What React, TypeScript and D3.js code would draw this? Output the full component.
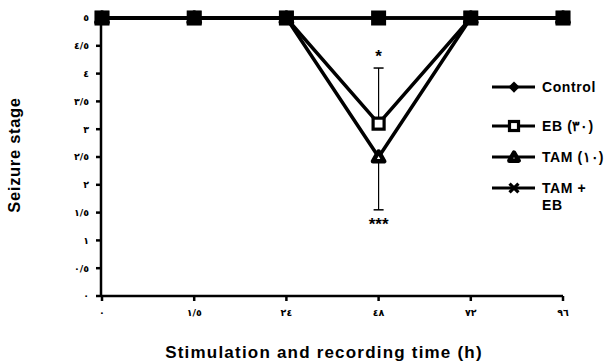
import { useEffect, useRef } from 'react';
import * as d3 from 'd3';

// time points (h) and their printed labels
const times = ['0', '1.5', '24', '48', '72', '96'];
const timeLabels = ['٠', '١/٥', '٢٤', '٤٨', '٧٢', '٩٦'];

const yTicks = [0, 0.5, 1, 1.5, 2, 2.5, 3, 3.5, 4, 4.5, 5];
const yTickLabels = ['٠', '٠/٥', '١', '١/٥', '٢', '٢/٥', '٣', '٣/٥', '٤', '٤/٥', '٥'];

const control = [5, 5, 5, 5, 5, 5];
const eb = [5, 5, 5, 3.1, 5, 5];
const tam = [5, 5, 5, 2.5, 5, 5];
const tamEb = [5, 5, 5, 5, 5, 5];

// error bars (one-sided) at 48 h
const ebErr = [0, 0, 0, 1.0, 0, 0];
const tamErr = [0, 0, 0, 0.95, 0, 0];

const legendLabels = ['Control', 'EB (٣٠)', 'TAM (١٠)', 'TAM +|EB'];

const W = 616;
const H = 364;
const ink = '#000';
const titleFont = '"Liberation Sans", Arial, sans-serif';
const digitFont = '"DejaVu Sans", sans-serif';

type Marker = 'diamond' | 'square' | 'triangle' | 'cross';

const drawMarker = (
  g: d3.Selection<SVGGElement, unknown, null, undefined>,
  kind: Marker,
  x: number,
  y: number,
  k = 1,
) => {
  if (kind === 'diamond') {
    g.append('path')
      .attr('d', d3.symbol(d3.symbolDiamond2, 120 * k * k)())
      .attr('transform', `translate(${x},${y})`)
      .attr('fill', ink);
  } else if (kind === 'square') {
    const s = 11 * k;
    g.append('rect')
      .attr('x', x - s / 2)
      .attr('y', y - s / 2)
      .attr('width', s)
      .attr('height', s)
      .attr('fill', '#fff')
      .attr('stroke', ink)
      .attr('stroke-width', 3.2);
  } else if (kind === 'triangle') {
    g.append('path')
      .attr('d', d3.symbol(d3.symbolTriangle, 55 * k * k)())
      .attr('transform', `translate(${x},${y + 1})`)
      .attr('fill', '#fff')
      .attr('stroke', ink)
      .attr('stroke-width', 4.5)
      .attr('stroke-linejoin', 'round');
  } else {
    g.append('path')
      .attr('d', d3.symbol(d3.symbolTimes, 80 * k * k)())
      .attr('transform', `translate(${x},${y})`)
      .attr('fill', 'none')
      .attr('stroke', ink)
      .attr('stroke-width', 3.2);
  }
};

export default function App() {
  const ref = useRef<SVGSVGElement>(null);

  useEffect(() => {
    const { current: dom } = ref;
    if (!dom) return;
    const svg = d3.select(dom);
    svg.selectAll('*').remove();

    svg.append('rect').attr('width', W).attr('height', H).attr('fill', '#fff');

    const x = d3.scalePoint<string>().domain(times).range([102, 563]);
    const y = d3.scaleLinear().domain([0, 5]).range([296, 18]);

    const g = svg.append('g');

    // y axis
    g.append('line')
      .attr('x1', 101)
      .attr('x2', 101)
      .attr('y1', y(0))
      .attr('y2', y(5))
      .attr('stroke', ink)
      .attr('stroke-width', 2.5);
    yTicks.forEach((t, i) => {
      g.append('line')
        .attr('x1', 96)
        .attr('x2', 101)
        .attr('y1', y(t))
        .attr('y2', y(t))
        .attr('stroke', ink)
        .attr('stroke-width', 2.5);
      g.append('text')
        .attr('x', 89)
        .attr('y', y(t))
        .attr('dy', '0.35em')
        .attr('text-anchor', 'end')
        .attr('font-family', digitFont)
        .attr('font-size', 9.5)
        .attr('font-weight', 'bold')
        .text(yTickLabels[i]);
    });

    // x axis
    g.append('line')
      .attr('x1', 101)
      .attr('x2', 563)
      .attr('y1', y(0))
      .attr('y2', y(0))
      .attr('stroke', ink)
      .attr('stroke-width', 2.5);
    times.forEach((t, i) => {
      g.append('line')
        .attr('x1', x(t)!)
        .attr('x2', x(t)!)
        .attr('y1', y(0))
        .attr('y2', y(0) + 5)
        .attr('stroke', ink)
        .attr('stroke-width', 2.5);
      g.append('text')
        .attr('x', x(t)!)
        .attr('y', 316)
        .attr('text-anchor', 'middle')
        .attr('font-family', digitFont)
        .attr('font-size', 9.5)
        .attr('font-weight', 'bold')
        .text(timeLabels[i]);
    });

    // axis titles
    svg.append('text')
      .attr('transform', 'translate(20,155) rotate(-90)')
      .attr('text-anchor', 'middle')
      .attr('font-family', titleFont)
      .attr('font-size', 16.5)
      .attr('letter-spacing', 0.7)
      .attr('font-weight', 'bold')
      .text('Seizure stage');
    svg.append('text')
      .attr('x', 324)
      .attr('y', 358)
      .attr('text-anchor', 'middle')
      .attr('font-family', titleFont)
      .attr('font-size', 17)
      .attr('letter-spacing', 1.2)
      .attr('font-weight', 'bold')
      .text('Stimulation and recording time (h)');

    // error bars
    const errBar = (vals: number[], errs: number[], dir: number) => {
      vals.forEach((v, i) => {
        if (!errs[i]) return;
        const cx = x(times[i])!;
        const end = y(v + dir * errs[i]);
        g.append('line')
          .attr('x1', cx)
          .attr('x2', cx)
          .attr('y1', y(v))
          .attr('y2', end)
          .attr('stroke', ink)
          .attr('stroke-width', 1.2);
        g.append('line')
          .attr('x1', cx - 5)
          .attr('x2', cx + 5)
          .attr('y1', end)
          .attr('y2', end)
          .attr('stroke', ink)
          .attr('stroke-width', 1.5);
      });
    };
    errBar(eb, ebErr, 1);
    errBar(tam, tamErr, -1);

    // lines
    const line = d3
      .line<number>()
      .x((_, i) => x(times[i])!)
      .y((d) => y(d));
    const series: { data: number[]; marker: Marker }[] = [
      { data: tam, marker: 'triangle' },
      { data: eb, marker: 'square' },
      { data: control, marker: 'diamond' },
      { data: tamEb, marker: 'cross' },
    ];
    series.forEach((s) => {
      g.append('path')
        .datum(s.data)
        .attr('d', line)
        .attr('fill', 'none')
        .attr('stroke', ink)
        .attr('stroke-width', 3.5)
        .attr('stroke-linejoin', 'miter');
    });
    series.forEach((s) => {
      s.data.forEach((v, i) => drawMarker(g, s.marker, x(times[i])!, y(v)));
    });
    // overlapping markers at the top read as one solid block
    times.forEach((t, i) => {
      if (control[i] === 5 && tamEb[i] === 5) {
        g.append('rect')
          .attr('x', x(t)! - 7.5)
          .attr('y', y(5) - 7.5)
          .attr('width', 15)
          .attr('height', 15)
          .attr('fill', ink);
      }
    });

    // significance stars
    const c48 = x('48')!;
    g.append('text')
      .attr('x', c48)
      .attr('y', y(eb[3] + ebErr[3]) - 6)
      .attr('text-anchor', 'middle')
      .attr('font-family', titleFont)
      .attr('font-size', 17)
      .attr('font-weight', 'bold')
      .text('*');
    g.append('text')
      .attr('x', c48)
      .attr('y', y(tam[3] - tamErr[3]) + 20)
      .attr('text-anchor', 'middle')
      .attr('font-family', titleFont)
      .attr('font-size', 17)
      .attr('font-weight', 'bold')
      .text('***');

    // legend
    const markers: Marker[] = ['diamond', 'square', 'triangle', 'cross'];
    const rows = [87, 126, 157, 188];
    const lg = svg.append('g');
    legendLabels.forEach((lab, i) => {
      const ly = rows[i];
      lg.append('line')
        .attr('x1', 492)
        .attr('x2', 535)
        .attr('y1', ly)
        .attr('y2', ly)
        .attr('stroke', ink)
        .attr('stroke-width', 3);
      drawMarker(lg as any, markers[i], 514, ly, 0.82);
      lab.split('|').forEach((part, j) => {
        lg.append('text')
          .attr('x', 542)
          .attr('y', ly + j * 17)
          .attr('dy', '0.36em')
          .attr('font-family', titleFont)
          .attr('font-size', 14)
          .attr('letter-spacing', 0.6)
          .attr('font-weight', 'bold')
          .text(part);
      });
    });
  }, []);

  return (
    <svg
      ref={ref}
      width={W}
      height={H}
      style={{ position: 'absolute', left: 0, top: 0 }}
    />
  );
}
